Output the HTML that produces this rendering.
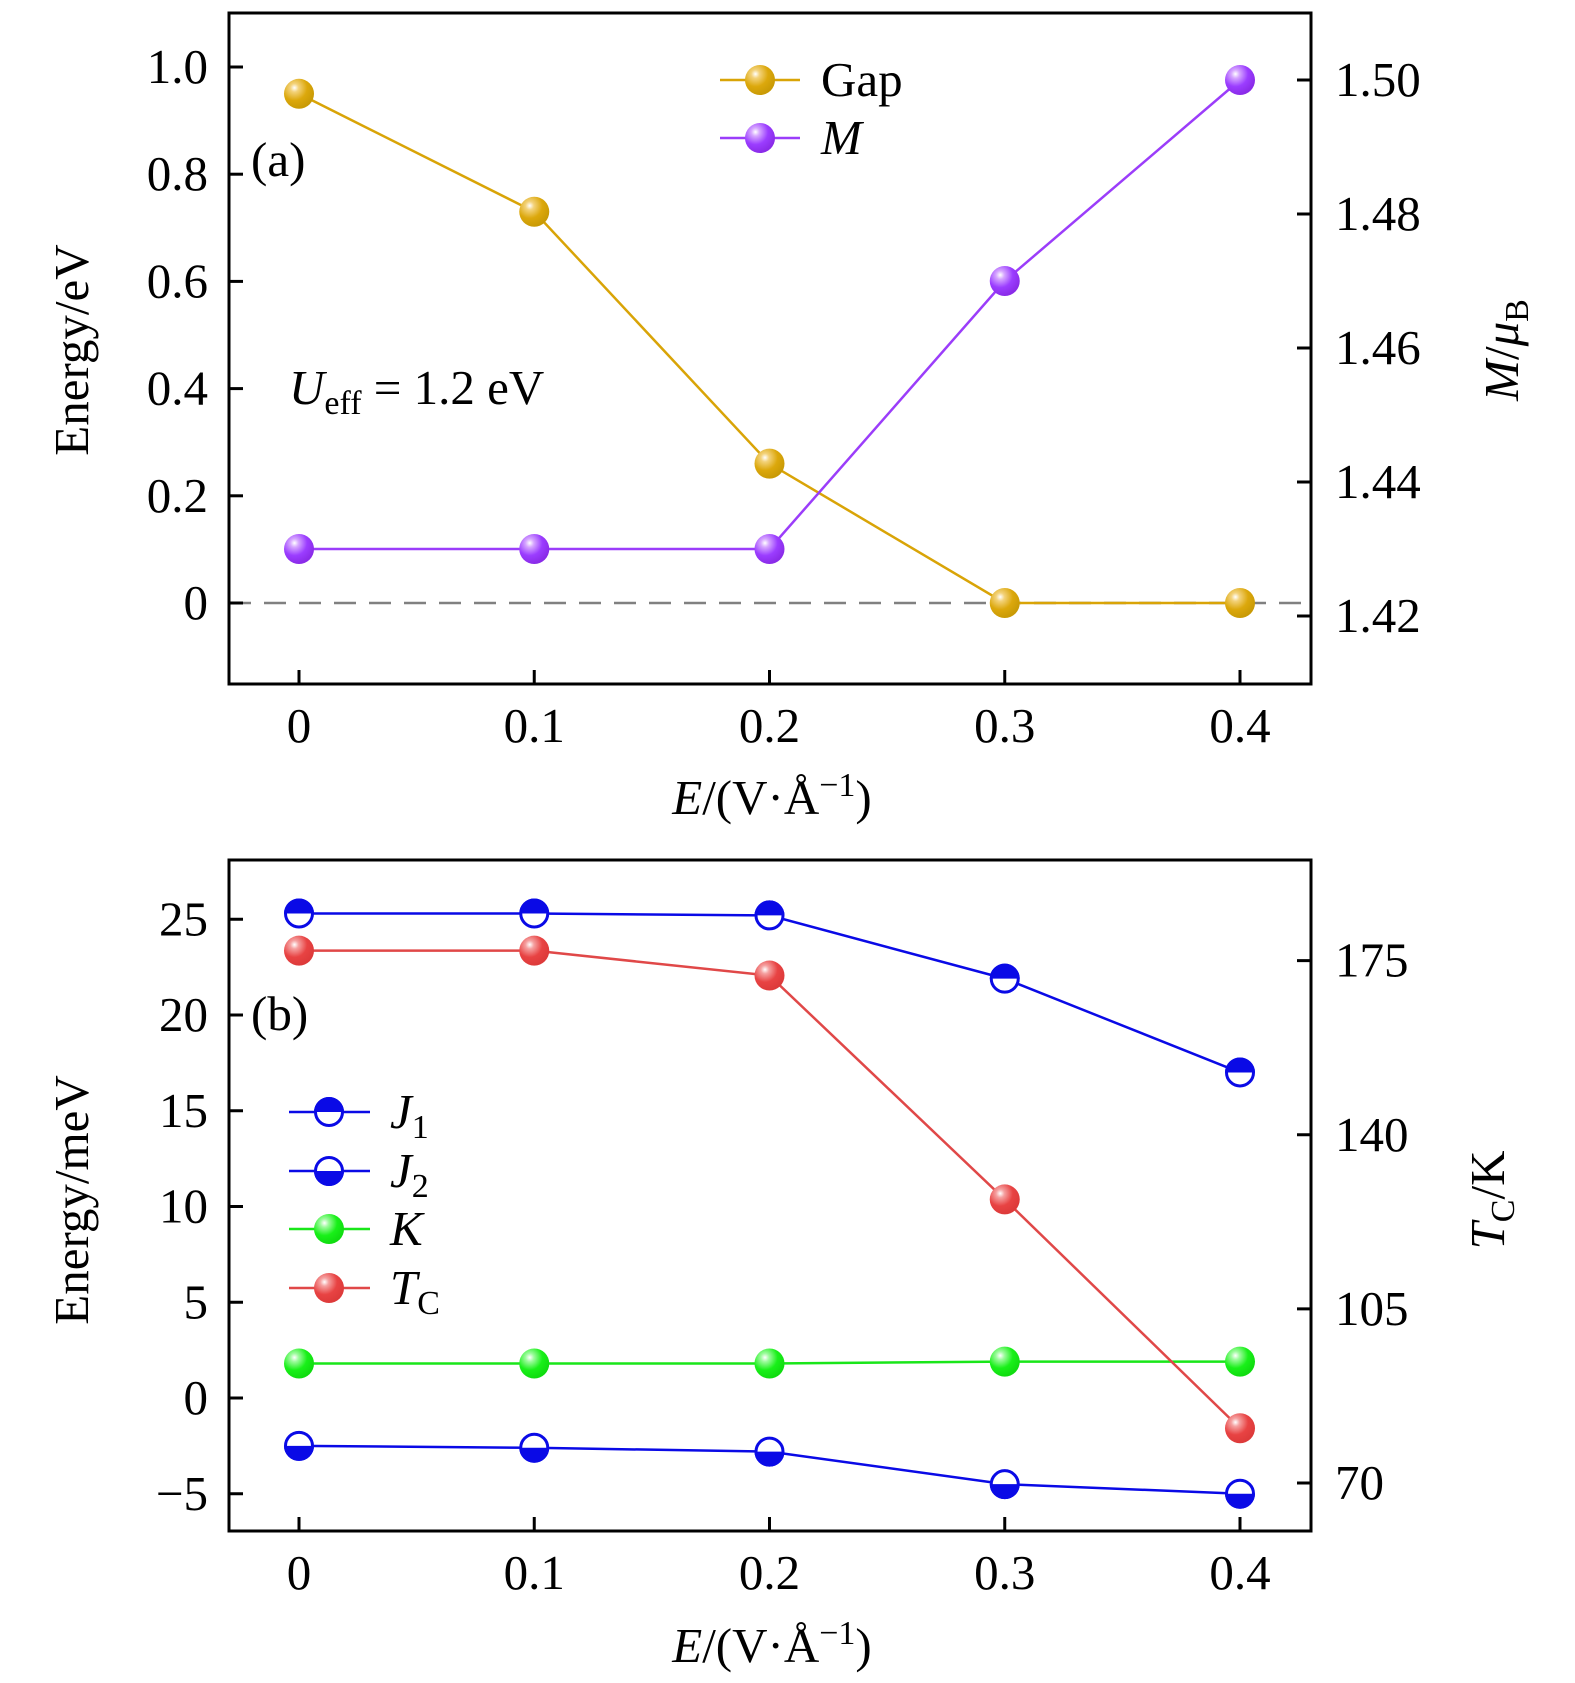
<!DOCTYPE html>
<html><head><meta charset="utf-8"><style>
body{margin:0;background:#fff}
svg{display:block;font-family:"Liberation Serif","DejaVu Serif",serif}
</style></head><body>
<svg id="chart" width="1575" height="1683" viewBox="0 0 1575 1683" xmlns="http://www.w3.org/2000/svg">
<defs>
<radialGradient id="gGold" cx="0.35" cy="0.3" r="0.7"><stop offset="0" stop-color="#fff"/><stop offset="0.2" stop-color="#f3d27a"/><stop offset="0.6" stop-color="#dca80c"/><stop offset="1" stop-color="#c99a05"/></radialGradient>
<radialGradient id="gPurple" cx="0.35" cy="0.3" r="0.7"><stop offset="0" stop-color="#fff"/><stop offset="0.2" stop-color="#d6a6ff"/><stop offset="0.6" stop-color="#9b3dff"/><stop offset="1" stop-color="#8a2be8"/></radialGradient>
<radialGradient id="gGreen" cx="0.35" cy="0.3" r="0.7"><stop offset="0" stop-color="#fff"/><stop offset="0.2" stop-color="#9dfb9d"/><stop offset="0.6" stop-color="#19f019"/><stop offset="1" stop-color="#10dc10"/></radialGradient>
<radialGradient id="gRed" cx="0.35" cy="0.3" r="0.7"><stop offset="0" stop-color="#fff"/><stop offset="0.2" stop-color="#f5a0a0"/><stop offset="0.6" stop-color="#e84343"/><stop offset="1" stop-color="#dd3a3a"/></radialGradient>
</defs>
<g id="layer"></g>
</svg>
<script>
// Panel (a) data
const fieldValues = [0, 0.1, 0.2, 0.3, 0.4];
const gapValues = [0.95, 0.73, 0.26, 0.0, 0.0];
const momentValues = [1.43, 1.43, 1.43, 1.47, 1.50];
const aLeftTicks = [0, 0.2, 0.4, 0.6, 0.8, 1.0];
const aLeftTickLabels = ["0", "0.2", "0.4", "0.6", "0.8", "1.0"];
const aRightTicks = [1.42, 1.44, 1.46, 1.48, 1.50];
const aRightTickLabels = ["1.42", "1.44", "1.46", "1.48", "1.50"];
const xTickLabels = ["0", "0.1", "0.2", "0.3", "0.4"];
// Panel (b) data
const j1Values = [25.3, 25.3, 25.2, 21.9, 17.0];
const j2Values = [-2.5, -2.6, -2.8, -4.5, -5.0];
const kValues = [1.8, 1.8, 1.8, 1.9, 1.9];
const tcValues = [177, 177, 172, 127, 81];
const bLeftTicks = [-5, 0, 5, 10, 15, 20, 25];
const bLeftTickLabels = ["\u22125", "0", "5", "10", "15", "20", "25"];
const bRightTicks = [70, 105, 140, 175];
const bRightTickLabels = ["70", "105", "140", "175"];

const NS = "http://www.w3.org/2000/svg";
const layer = document.getElementById("layer");
function mk(tag, attrs, parent) {
  const e = document.createElementNS(NS, tag);
  for (const k in attrs) e.setAttribute(k, attrs[k]);
  (parent || layer).appendChild(e);
  return e;
}
const L = 229, R = 1311;
const FS = 49, SFS = 34;
const xs = v => 299 + v / 0.4 * 941;
// panel a scales
const aTop = 13, aBot = 684;
const yAL = v => 603 - v * 536;
const yAR = m => 616 - (m - 1.42) / 0.08 * 536;
// panel b scales
const bTop = 860, bBot = 1531;
const yBL = v => 1398 - v * 19.15;
const yBR = t => 1483 - (t - 70) * 4.975;

function frame(top, bot, name) {
  const r = mk("rect", {x: L, y: top, width: R - L, height: bot - top, fill: "none", stroke: "#000", "stroke-width": 3});
  
  
}
function text(str, x, y, anchor, size, name, extra) {
  const t = mk("text", Object.assign({x: x, y: y, "text-anchor": anchor, "font-size": size, fill: "#000"}, extra || {}));
  t.textContent = str;
  
  
  return t;
}
function xAxis(bot, labelY, name) {
  fieldValues.forEach((v, i) => {
    mk("line", {x1: xs(v), x2: xs(v), y1: bot, y2: bot - 14, stroke: "#000", "stroke-width": 3});
    text(xTickLabels[i], xs(v), labelY, "middle", FS, name + "-tick-label");
  });
}
function leftTicks(ticks, labels, f, name) {
  ticks.forEach((v, i) => {
    mk("line", {x1: L, x2: L + 14, y1: f(v), y2: f(v), stroke: "#000", "stroke-width": 3});
    text(labels[i], 208, f(v) + 16, "end", FS, name + "-tick-label");
  });
}
function rightTicks(ticks, labels, f, name) {
  ticks.forEach((v, i) => {
    mk("line", {x1: R, x2: R - 14, y1: f(v), y2: f(v), stroke: "#000", "stroke-width": 3});
    text(labels[i], 1335, f(v) + 16, "start", FS, name + "-tick-label");
  });
}
function series(vals, f, color, grad, name) {
  const pts = vals.map((v, i) => xs(fieldValues[i]) + "," + f(v)).join(" ");
  const pl = mk("polyline", {points: pts, fill: "none", stroke: color, "stroke-width": 2.5});
  
  
  vals.forEach((v, i) => {
    const c = mk("circle", {cx: xs(fieldValues[i]), cy: f(v), r: 15, fill: "url(#" + grad + ")"});
    
    
  });
}
function halfMarker(cx, cy, topFilled, color, name) {
  const g = mk("g", {});
  
  
  mk("circle", {cx: cx, cy: cy, r: 13.5, fill: "#fff", stroke: color, "stroke-width": 3}, g);
  const d = topFilled
    ? `M${cx-15},${cy} A15,15 0 0 1 ${cx+15},${cy} Z`
    : `M${cx-15},${cy} A15,15 0 0 0 ${cx+15},${cy} Z`;
  mk("path", {d: d, fill: color}, g);
}
function halfSeries(vals, f, color, topFilled, name) {
  const pts = vals.map((v, i) => xs(fieldValues[i]) + "," + f(v)).join(" ");
  const pl = mk("polyline", {points: pts, fill: "none", stroke: color, "stroke-width": 2.5});
  
  
  vals.forEach((v, i) => halfMarker(xs(fieldValues[i]), f(v), topFilled, color, name + '-point'));
}

// ===== Panel a =====
const dash = mk("line", {x1: L, x2: R, y1: yAL(0), y2: yAL(0), stroke: "#808080", "stroke-width": 2.5, "stroke-dasharray": "22,13"});


series(gapValues, yAL, "#d9a407", "gGold", "gap");
series(momentValues, yAR, "#9b3dfa", "gPurple", "moment");
frame(aTop, aBot, "panel-a-frame");
xAxis(aBot, 742, "panel-a-x");
leftTicks(aLeftTicks, aLeftTickLabels, yAL, "panel-a-left-y");
rightTicks(aRightTicks, aRightTickLabels, yAR, "panel-a-right-y");
text("(a)", 251, 176, "start", FS, "panel-a-label");
const ue = text("", 289, 404, "start", FS, "ueff-annotation");
ue.innerHTML = '<tspan font-style="italic">U</tspan><tspan font-size="' + SFS + '" dy="10">eff</tspan><tspan dy="-10"> = 1.2 eV</tspan>';
const xl1 = text("", 772, 814, "middle", FS, "panel-a-x-axis-title");
xl1.innerHTML = '<tspan font-style="italic">E</tspan>/(V·Å<tspan font-size="' + SFS + '" dy="-18">−1</tspan><tspan dy="18">)</tspan>';
text("Energy/eV", 88, 350, "middle", FS, "panel-a-left-axis-title", {transform: "rotate(-90 88 350)"});
const ml = text("", 1518, 350, "middle", FS, "panel-a-right-axis-title", {transform: "rotate(-90 1518 350)"});
ml.innerHTML = '<tspan font-style="italic">M</tspan>/<tspan font-style="italic">μ</tspan><tspan font-size="' + SFS + '" dy="10">B</tspan>';
// legend a
[[80, "#d9a407", "gGold", "Gap", false, "legend-gap"], [138, "#9b3dfa", "gPurple", "M", true, "legend-moment"]].forEach(l => {
  const g = mk("g", {});
  
  
  mk("line", {x1: 720, x2: 800, y1: l[0], y2: l[0], stroke: l[1], "stroke-width": 2.5}, g);
  mk("circle", {cx: 760, cy: l[0], r: 15, fill: "url(#" + l[2] + ")"}, g);
  const t = mk("text", {x: 821, y: l[0] + 16, "font-size": FS, "font-style": l[4] ? "italic" : "normal"}, g);
  t.textContent = l[3];
});

// ===== Panel b =====
series(kValues, yBL, "#19e619", "gGreen", "k");
series(tcValues, yBR, "#e04848", "gRed", "tc");
halfSeries(j1Values, yBL, "#0a0ae6", true, "j1");
halfSeries(j2Values, yBL, "#0a0ae6", false, "j2");
frame(bTop, bBot, "panel-b-frame");
xAxis(bBot, 1589, "panel-b-x");
leftTicks(bLeftTicks, bLeftTickLabels, yBL, "panel-b-left-y");
rightTicks(bRightTicks, bRightTickLabels, yBR, "panel-b-right-y");
text("(b)", 251, 1030, "start", FS, "panel-b-label");
const xl2 = text("", 772, 1662, "middle", FS, "panel-b-x-axis-title");
xl2.innerHTML = '<tspan font-style="italic">E</tspan>/(V·Å<tspan font-size="' + SFS + '" dy="-18">−1</tspan><tspan dy="18">)</tspan>';
text("Energy/meV", 88, 1200, "middle", FS, "panel-b-left-axis-title", {transform: "rotate(-90 88 1200)"});
const tl = text("", 1504, 1200, "middle", FS, "panel-b-right-axis-title", {transform: "rotate(-90 1504 1200)"});
tl.innerHTML = '<tspan font-style="italic">T</tspan><tspan font-size="' + SFS + '" dy="10">C</tspan><tspan dy="-10">/K</tspan>';
// legend b
const legB = [[1112, "j1", "J", "1"], [1171, "j2", "J", "2"], [1229, "k", "K", ""], [1288, "tc", "T", "C"]];
legB.forEach(l => {
  const g = mk("g", {});
  
  
  const color = l[1] === "k" ? "#19e619" : l[1] === "tc" ? "#e04848" : "#0a0ae6";
  mk("line", {x1: 289, x2: 370, y1: l[0], y2: l[0], stroke: color, "stroke-width": 2.5}, g);
  if (l[1] === "j1" || l[1] === "j2") {
    mk("circle", {cx: 329, cy: l[0], r: 13.5, fill: "#fff", stroke: color, "stroke-width": 3}, g);
    const cx = 329, cy = l[0];
    const d = l[1] === "j1" ? `M${cx-15},${cy} A15,15 0 0 1 ${cx+15},${cy} Z` : `M${cx-15},${cy} A15,15 0 0 0 ${cx+15},${cy} Z`;
    mk("path", {d: d, fill: color}, g);
  } else {
    mk("circle", {cx: 329, cy: l[0], r: 15, fill: l[1] === "k" ? "url(#gGreen)" : "url(#gRed)"}, g);
  }
  const t = mk("text", {x: 390, y: l[0] + 16, "font-size": FS}, g);
  t.innerHTML = '<tspan font-style="italic">' + l[2] + '</tspan>' + (l[3] ? '<tspan font-size="' + SFS + '" dy="10">' + l[3] + '</tspan>' : '');
});
</script>
</body></html>
